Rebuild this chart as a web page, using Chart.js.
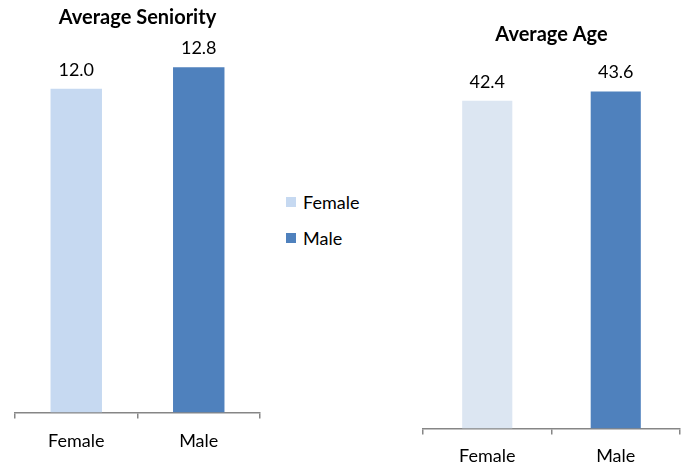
<!DOCTYPE html>
<html lang="en">
<head>
    <meta charset="UTF-8">
    <title>Average Seniority and Age by Gender</title>
    <script src="https://cdn.jsdelivr.net/npm/chart.js"></script>
    <style>
        body {
            margin: 0;
            padding: 0;
            overflow: hidden;
            background-color: #ffffff;
            font-family: Lato, "Open Sans", sans-serif;
        }
        .wrap {
            position: relative;
            width: 683px;
            height: 466px;
            overflow: hidden;
        }
        .chart-box {
            position: absolute;
            top: 0;
        }
        #seniorityBox { left: 0; width: 275px; height: 466px; }
        #ageBox { left: 410px; width: 273px; height: 478px; }
        .legend {
            position: absolute;
            left: 286px;
            top: 192px;
            font-size: 18px;
            color: #000;
        }
        .legend-item {
            display: flex;
            align-items: center;
            height: 20px;
            margin-bottom: 16px;
        }
        .swatch {
            width: 10px;
            height: 10px;
            margin-right: 7px;
        }
    </style>
</head>
<body>
    <div class="wrap">
        <div id="seniorityBox" class="chart-box"><canvas id="seniorityChart"></canvas></div>
        <div class="legend">
            <div class="legend-item"><span class="swatch" style="background:#c6d9f1"></span>Female</div>
            <div class="legend-item"><span class="swatch" style="background:#4f81bd"></span>Male</div>
        </div>
        <div id="ageBox" class="chart-box"><canvas id="ageChart"></canvas></div>
    </div>

    <script>
        const genders = ['Female', 'Male'];
        const seniorityValues = [12.0, 12.8];
        const ageValues = [42.4, 43.6];

        const FONT = 'Lato, "Open Sans", sans-serif';
        const AXIS_GREY = '#868686';

        // Writes the value of each bar just above it, one decimal place
        const valueLabels = {
            id: 'valueLabels',
            afterDatasetsDraw(chart) {
                const ctx = chart.ctx;
                const meta = chart.getDatasetMeta(0);
                const values = chart.data.datasets[0].data;
                ctx.save();
                ctx.font = '18px ' + FONT;
                ctx.fillStyle = '#000';
                ctx.textAlign = 'center';
                ctx.textBaseline = 'middle';
                meta.data.forEach((bar, i) => {
                    ctx.fillText(values[i].toFixed(1), bar.x, bar.y - 19);
                });
                ctx.restore();
            }
        };

        function makeBarChart(id, title, values, colors, opts) {
            const ctx = document.getElementById(id).getContext('2d');
            return new Chart(ctx, {
                type: 'bar',
                data: {
                    labels: genders,
                    datasets: [{
                        data: values,
                        backgroundColor: colors,
                        borderWidth: 0,
                        barPercentage: opts.barPct,
                        categoryPercentage: 1
                    }]
                },
                options: {
                    responsive: true,
                    maintainAspectRatio: false,
                    animation: false,
                    layout: { padding: opts.padding },
                    plugins: {
                        legend: { display: false },
                        tooltip: { enabled: false },
                        title: {
                            display: true,
                            text: title,
                            color: '#000',
                            font: { family: FONT, size: 20, weight: 'bold' },
                            padding: opts.titlePadding
                        }
                    },
                    scales: {
                        x: {
                            border: { color: AXIS_GREY, width: 1.5 },
                            grid: {
                                offset: true,
                                drawOnChartArea: false,
                                drawTicks: true,
                                tickLength: 6,
                                color: AXIS_GREY,
                                lineWidth: 1.5
                            },
                            ticks: {
                                color: '#000',
                                padding: opts.tickPad,
                                font: { family: FONT, size: 18 }
                            }
                        },
                        y: {
                            display: false,
                            min: 0,
                            max: opts.yMax
                        }
                    }
                },
                plugins: [valueLabels]
            });
        }

        makeBarChart('seniorityChart', 'Average Seniority', seniorityValues, ['#c6d9f1', '#4f81bd'], {
            barPct: 0.42,
            padding: { left: 15, right: 15, top: 0, bottom: 2 },
            titlePadding: { top: 6, bottom: 8 },
            tickPad: 12,
            yMax: 13.88
        });

        makeBarChart('ageChart', 'Average Age', ageValues, ['#dce6f2', '#4f81bd'], {
            barPct: 0.39,
            padding: { left: 13, right: 3, top: 0, bottom: 0 },
            titlePadding: { top: 23, bottom: 8 },
            tickPad: 11,
            yMax: 48.33
        });
    </script>
</body>
</html>
